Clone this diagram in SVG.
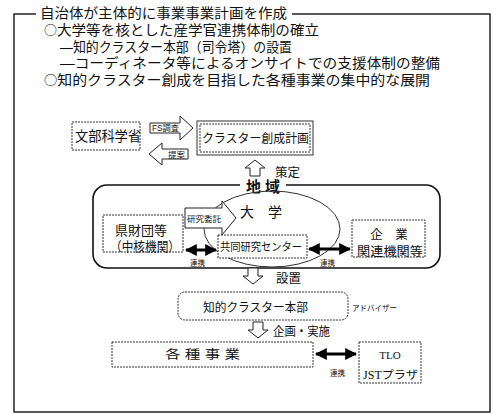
<svg xmlns="http://www.w3.org/2000/svg" width="500" height="417" viewBox="0 0 500 417">
<style>
text{font-family:"Liberation Sans","Noto Sans CJK JP",sans-serif;fill:#111}
.cjk{font-family:"Noto Sans CJK JP",sans-serif;font-size:12px}
.dot{fill:#fff;stroke:#333;stroke-width:1;stroke-dasharray:2 1}
.hol{fill:#fff;stroke:#222;stroke-width:1}
.frame{fill:none;stroke:#222;stroke-width:1.5}
.sm{font-size:8.5px}
.ser{font-family:"Liberation Serif","Noto Sans CJK JP",serif}
.top{font-size:13.5px}
</style>
<defs>
<marker id="ah" viewBox="0 0 10 10" refX="9" refY="5" markerWidth="4" markerHeight="4" orient="auto-start-reverse" markerUnits="strokeWidth"><path d="M0,0L10,5L0,10z" fill="#000"/></marker>
</defs>
<rect width="500" height="417" fill="#fff"/>
<g id="outer">
<path class="frame" d="M36,14H14V412H490V14H292"/>
<text x="40" y="18" class="top" textLength="247" lengthAdjust="spacingAndGlyphs">自治体が主体的に事業事業計画を作成</text>
<text x="44" y="35" class="top" textLength="275" lengthAdjust="spacingAndGlyphs"><tspan class="cjk">○</tspan>大学等を核とした産学官連携体制の確立</text>
<text x="60" y="51.5" class="top" textLength="232" lengthAdjust="spacingAndGlyphs">―知的クラスター本部（司令塔）の設置</text>
<text x="60" y="68" class="top" textLength="380" lengthAdjust="spacingAndGlyphs">―コーディネータ等によるオンサイトでの支援体制の整備</text>
<text x="44" y="84.5" class="top" textLength="386" lengthAdjust="spacingAndGlyphs"><tspan class="cjk">○</tspan>知的クラスター創成を目指した各種事業の集中的な展開</text>
</g>
<g id="mext">
<rect class="dot" x="72" y="122" width="68" height="28"/>
<text x="75" y="141" font-size="13.5" textLength="66" lengthAdjust="spacingAndGlyphs">文部科学省</text>
</g>
<g id="plan">
<rect x="197" y="121" width="116" height="34" fill="#fff" stroke="#333" stroke-width="1"/>
<rect x="200" y="124" width="110" height="28" fill="none" stroke="#333" stroke-width="1" stroke-dasharray="2 1"/>
<text x="202" y="143" font-size="12.5" textLength="107" lengthAdjust="spacingAndGlyphs">クラスター創成計画</text>
</g>
<g id="region">
<path d="M240,185H107a14,14 0 0 0 -14,14V254a14,14 0 0 0 14,14H426a14,14 0 0 0 14,-14V199a14,14 0 0 0 -14,-14H286" fill="none" stroke="#111" stroke-width="1.6"/>
<text x="263" y="192" font-size="15" font-weight="bold" text-anchor="middle">地 域</text>
</g>
<g id="univ">
<ellipse cx="272" cy="229" rx="68" ry="38" fill="none" stroke="#333" stroke-width="1"/>
<text x="240" y="217" font-size="14">大　学</text>
</g>
<g id="pref">
<rect class="dot" x="103" y="215" width="80" height="37"/>
<text x="115" y="235" font-size="13" textLength="52" lengthAdjust="spacingAndGlyphs">県財団等</text>
<text x="110" y="251" font-size="13" textLength="70" lengthAdjust="spacingAndGlyphs">（中核機関）</text>
</g>
<g id="center">
<rect class="dot" x="218" y="235" width="89" height="23"/>
<text x="220" y="251" font-size="11" textLength="82" lengthAdjust="spacingAndGlyphs">共同研究センター</text>
</g>
<g id="company">
<rect class="dot" x="352" y="220" width="73" height="37"/>
<text x="389" y="239" font-size="12.5" text-anchor="middle">企　業</text>
<text x="357" y="256" font-size="12.5" textLength="66" lengthAdjust="spacingAndGlyphs">関連機関等</text>
</g>
<g id="hq">
<rect class="dot" x="178" y="292" width="170" height="28" rx="7"/>
<text x="203" y="312" font-size="12" textLength="105" lengthAdjust="spacingAndGlyphs">知的クラスター本部</text>
<text x="352" y="311" font-size="8" textLength="45" lengthAdjust="spacingAndGlyphs">アドバイザー</text>
</g>
<g id="projects">
<rect class="dot" x="112" y="342" width="201" height="25"/>
<text x="165" y="359" font-size="12" textLength="75" lengthAdjust="spacingAndGlyphs">各 種 事 業</text>
</g>
<g id="tlo">
<rect class="dot" x="359" y="342" width="62" height="41"/>
<text x="390" y="359" font-size="11" class="ser" text-anchor="middle">TLO</text>
<text x="363" y="379" font-size="11.5" class="ser" textLength="55" lengthAdjust="spacingAndGlyphs">JSTプラザ</text>
</g>
<g id="connectors">
<polygon class="hol" points="150,123 180,123 180,116 193,128 180,140 180,133 150,133"/>
<text x="152" y="131" class="sm" textLength="27" lengthAdjust="spacingAndGlyphs">FS調査</text>
<polygon class="hol" points="149,154 162,143 162,149 188,149 188,159 162,159 162,165"/>
<text x="168" y="158" class="sm">提案</text>
<polygon class="hol" points="255,160 265,168 260,168 260,176 250,176 250,168 245,168"/>
<text x="275" y="177" font-size="12.5">策定</text>
<polygon class="hol" points="185,208 222,208 222,201 236,218 222,235 222,228 185,228"/>
<text x="187" y="222" class="sm" textLength="34" lengthAdjust="spacingAndGlyphs">研究委託</text>
<line x1="186" y1="250" x2="216" y2="250" stroke="#000" stroke-width="3" marker-start="url(#ah)" marker-end="url(#ah)"/>
<text x="190" y="266" font-size="7.5">連携</text>
<line x1="309" y1="249" x2="350" y2="249" stroke="#000" stroke-width="3" marker-start="url(#ah)" marker-end="url(#ah)"/>
<text x="320" y="266" font-size="7.5">連携</text>
<polygon class="hol" points="248,268 258,268 258,276 263,276 253,284 243,276 248,276"/>
<text x="276" y="283" font-size="12.5">設置</text>
<polygon class="hol" points="253,322 263,322 263,330 268,330 258,338 248,330 253,330"/>
<text x="273" y="336" font-size="12.5" textLength="57" lengthAdjust="spacingAndGlyphs">企画・実施</text>
<line x1="316" y1="354" x2="356" y2="354" stroke="#000" stroke-width="3" marker-start="url(#ah)" marker-end="url(#ah)"/>
<text x="330" y="376" font-size="7.5">連携</text>
</g>
</svg>
